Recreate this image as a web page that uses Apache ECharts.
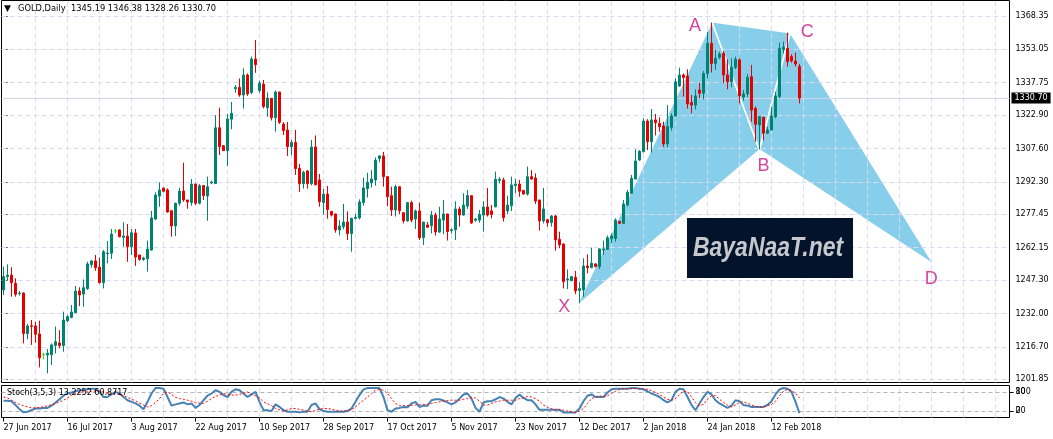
<!DOCTYPE html>
<html><head><meta charset="utf-8">
<script src="https://cdn.jsdelivr.net/npm/echarts@6/dist/echarts.min.js"></script>
<style>html,body{margin:0;padding:0;background:#fff}#c{width:1053px;height:439px}</style>
</head><body><div id="c"></div>
<script>
// ---------- data ----------
const chartTitle = 'GOLD,Daily  1345.19 1346.38 1328.26 1330.70';
const stochTitle = 'Stoch(3,5,3) 13.2252 60.8717';
const watermarkText = 'BayaNaaT.net';
const xLabels = ['27 Jun 2017','16 Jul 2017','3 Aug 2017','22 Aug 2017','10 Sep 2017','28 Sep 2017','17 Oct 2017','5 Nov 2017','23 Nov 2017','12 Dec 2017','2 Jan 2018','24 Jan 2018','12 Feb 2018'];
const yTicks = [1201.85,1216.70,1232.00,1247.30,1262.15,1277.45,1292.30,1307.60,1322.90,1337.75,1353.05,1368.35];
const bidPrice = 1330.70;
const stochLevels = [20, 80];
const stochRangeLabels = ['0', '100'];

const open = [
1242.8,1248.9,1249.6,1245.8,1241.1,1241.4,1222.8,1226.4,1226.3,1222.6,
1213.3,1213.0,1213.1,1217.3,1218.5,1217.3,1228.7,1230.2,1232.4,1242.3,
1240.9,1243.4,1254.4,1256.1,1253.2,1246.1,1259.4,1259.6,1269.8,1270.3,
1266.9,1267.5,1262.6,1268.9,1258.8,1256.8,1257.1,1261.1,1275.3,1285.8,
1289.5,1288.6,1279.1,1272.1,1282.5,1288.1,1284.0,1282.8,1291.3,1282.5,
1290.6,1285.8,1291.8,1291.6,1317.1,1308.9,1306.6,1321.0,1335.0,1335.6,
1332.1,1341.3,1333.2,1348.6,1334.2,1337.1,1326.3,1330.6,1321.7,1333.5,
1318.8,1316.1,1308.4,1310.4,1298.5,1291.5,1297.3,1291.5,1308.3,1293.2,
1282.8,1286.7,1278.8,1277.6,1270.3,1271.8,1273.9,1268.6,1275.6,1275.8,
1282.8,1289.2,1291.8,1293.2,1303.0,1304.2,1294.7,1286.0,1279.4,1290.1,
1278.2,1274.4,1282.8,1275.3,1279.0,1266.7,1272.6,1272.2,1277.1,1269.3,
1274.8,1277.6,1270.0,1270.3,1279.9,1277.1,1281.2,1286.0,1274.7,1274.8,
1277.1,1280.8,1279.0,1280.9,1293.0,1293.2,1279.0,1281.4,1290.7,1291.3,
1288.4,1286.7,1294.7,1294.1,1284.0,1274.4,1275.0,1273.6,1276.7,1266.0,
1263.8,1247.3,1247.0,1248.6,1242.5,1242.8,1253.8,1253.0,1254.7,1253.5,
1261.1,1261.4,1266.3,1266.4,1274.2,1273.3,1281.7,1287.1,1293.6,1302.3,
1306.2,1320.2,1310.7,1320.7,1319.1,1317.9,1309.7,1317.3,1322.5,1336.2,
1341.3,1340.8,1328.6,1327.5,1334.4,1332.9,1342.0,1355.8,1346.6,1349.4,
1351.2,1341.3,1338.2,1344.8,1348.2,1331.1,1332.6,1340.5,1326.0,1318.4,
1321.9,1314.6,1316.1,1322.2,1331.4,1353.0,1353.5,1349.7,1347.7,1345.19];
const high = [
1253.5,1254.5,1253.2,1248.1,1242.3,1241.7,1227.2,1229.0,1228.2,1228.7,
1214.0,1215.7,1218.3,1226.0,1224.4,1232.8,1231.3,1235.9,1244.6,1244.0,
1247.6,1255.7,1256.5,1258.8,1257.6,1261.1,1265.2,1270.7,1270.7,1270.5,
1273.8,1273.0,1270.7,1270.7,1258.9,1258.0,1265.4,1279.0,1287.5,1292.1,
1289.6,1289.3,1279.4,1282.8,1289.6,1301.1,1284.1,1293.6,1291.6,1291.3,
1290.8,1294.7,1292.9,1322.9,1326.3,1309.2,1323.4,1328.9,1336.7,1339.7,
1344.3,1342.0,1349.7,1357.3,1338.7,1339.0,1333.3,1330.7,1334.2,1333.6,
1319.7,1319.7,1311.5,1316.1,1300.5,1297.4,1297.7,1311.5,1313.6,1295.9,
1289.0,1290.4,1278.9,1277.7,1274.8,1282.2,1278.8,1275.9,1277.6,1284.3,
1294.2,1296.5,1297.7,1303.5,1304.5,1306.0,1294.8,1290.1,1291.0,1290.2,
1278.5,1282.9,1283.7,1279.7,1282.8,1274.0,1273.9,1279.0,1278.2,1280.9,
1284.0,1277.7,1271.0,1283.4,1280.9,1287.1,1288.6,1286.1,1275.8,1279.4,
1283.4,1289.5,1281.7,1297.0,1294.5,1294.2,1286.0,1294.7,1293.6,1293.2,
1288.5,1299.3,1297.7,1296.2,1284.1,1289.5,1275.3,1277.1,1277.1,1269.5,
1264.1,1252.2,1249.2,1251.5,1246.4,1257.3,1259.1,1262.2,1255.0,1261.9,
1265.4,1267.7,1268.7,1275.6,1274.5,1284.0,1288.6,1295.5,1307.2,1306.9,
1321.4,1321.0,1325.7,1323.4,1321.9,1319.9,1327.5,1323.7,1339.7,1344.6,
1342.0,1343.9,1332.1,1334.7,1337.8,1343.1,1361.1,1365.3,1353.0,1352.0,
1352.3,1348.5,1348.9,1349.7,1348.9,1334.4,1341.7,1345.9,1326.8,1322.5,
1322.2,1317.6,1326.5,1333.6,1356.1,1356.6,1360.7,1350.7,1351.5,1346.38];
const low = [
1240.5,1247.3,1239.7,1239.7,1240.2,1218.3,1220.2,1217.6,1218.6,1207.3,
1211.0,1204.6,1208.4,1213.7,1216.0,1214.5,1228.1,1229.8,1232.1,1235.4,
1235.1,1242.8,1253.0,1251.6,1245.8,1243.5,1255.0,1257.0,1268.7,1266.9,
1262.6,1255.7,1258.8,1253.8,1256.2,1256.1,1251.2,1260.8,1274.8,1280.9,
1287.5,1278.2,1267.2,1267.5,1281.4,1283.2,1280.0,1281.4,1281.7,1282.0,
1284.0,1274.5,1291.3,1291.3,1304.6,1306.5,1299.6,1316.4,1333.2,1331.3,
1325.9,1331.7,1332.6,1342.3,1333.2,1326.0,1322.2,1320.4,1315.3,1318.8,
1313.8,1304.2,1304.6,1295.5,1287.7,1289.2,1289.2,1290.7,1290.7,1280.9,
1277.4,1275.4,1276.4,1269.0,1267.8,1270.6,1265.7,1260.3,1275.1,1275.1,
1281.4,1285.1,1289.7,1290.6,1301.3,1290.1,1281.2,1276.7,1276.4,1277.4,
1273.3,1274.1,1273.8,1270.7,1265.7,1263.4,1271.3,1268.7,1267.7,1269.0,
1268.4,1265.4,1268.7,1265.7,1271.8,1276.8,1279.9,1273.0,1274.1,1273.6,
1269.5,1276.4,1275.6,1280.6,1291.6,1274.1,1277.6,1279.0,1287.1,1285.5,
1286.6,1286.0,1293.2,1282.2,1270.0,1273.3,1271.8,1271.8,1260.8,1261.9,
1243.5,1243.2,1246.9,1240.8,1236.7,1239.7,1250.4,1252.7,1253.2,1252.4,
1258.8,1261.1,1264.2,1264.9,1273.0,1273.0,1281.0,1286.8,1293.5,1302.0,
1305.7,1306.9,1305.7,1313.6,1315.3,1308.4,1308.1,1315.8,1322.2,1335.9,
1331.4,1325.9,1323.7,1325.5,1330.6,1330.1,1339.7,1342.4,1343.6,1348.5,
1337.5,1334.7,1335.6,1343.9,1328.3,1329.5,1331.1,1319.9,1310.7,1307.2,
1311.2,1314.2,1315.8,1321.4,1330.6,1351.2,1345.1,1346.9,1345.1,1328.26];
const close = [
1248.9,1249.6,1246.1,1240.8,1241.4,1222.8,1226.3,1226.1,1222.5,1211.7,
1213.3,1213.8,1217.6,1219.1,1217.3,1229.0,1230.5,1232.7,1242.3,1240.5,
1243.8,1254.7,1256.1,1253.0,1246.1,1260.3,1259.7,1268.4,1269.8,1267.2,
1267.5,1262.6,1269.0,1257.9,1256.8,1257.4,1261.5,1275.8,1286.3,1288.6,
1288.0,1278.5,1272.1,1282.5,1288.1,1284.0,1283.1,1291.3,1282.5,1290.6,
1286.0,1290.1,1292.2,1317.1,1308.4,1306.6,1321.1,1323.7,1335.6,1332.1,
1341.3,1332.6,1348.6,1346.0,1337.5,1326.8,1330.7,1321.7,1333.5,1319.6,
1315.8,1308.4,1310.4,1298.4,1291.5,1296.7,1291.5,1308.3,1291.0,1283.2,
1286.7,1279.6,1277.1,1270.3,1272.1,1273.9,1268.6,1275.6,1276.1,1283.1,
1289.5,1292.1,1293.6,1302.3,1304.2,1294.7,1285.5,1279.4,1290.1,1279.1,
1274.4,1282.8,1274.8,1279.0,1266.7,1273.9,1271.5,1277.1,1269.3,1275.3,
1277.6,1269.5,1270.4,1279.9,1277.1,1281.7,1286.0,1273.5,1275.3,1277.4,
1280.8,1277.1,1277.4,1293.5,1293.5,1275.9,1281.7,1290.9,1291.3,1288.0,
1286.7,1294.7,1293.6,1283.5,1274.4,1279.9,1273.6,1276.7,1265.7,1263.4,
1246.6,1247.8,1248.9,1242.3,1243.4,1253.8,1253.0,1255.0,1253.5,1261.6,
1261.6,1266.7,1267.5,1274.8,1273.3,1282.2,1287.5,1293.9,1301.9,1306.3,
1320.2,1310.7,1320.7,1319.4,1317.6,1309.7,1317.6,1322.5,1338.2,1341.3,
1340.1,1328.0,1327.5,1331.7,1332.9,1342.0,1355.8,1346.6,1348.9,1350.9,
1341.3,1338.2,1344.8,1348.5,1331.7,1332.6,1340.2,1325.2,1318.7,1322.2,
1314.6,1316.1,1322.5,1331.7,1353.5,1354.0,1347.4,1347.8,1346.3,1330.70];

const stochK = [
52,52,51,39,26,16,18,23,28,28, 30,30,37,47,57,68,75,78,82,85,
85,88,90,90,80,64,64,72,80,75, 64,54,49,44,37,26,49,75,92,92,
90,64,37,41,44,47,41,44,30,39, 54,68,75,85,80,70,64,80,88,85,
75,64,72,80,49,23,23,20,41,33, 23,18,18,18,16,18,18,39,44,26,
20,18,18,18,18,18,20,28,49,70, 88,92,92,92,92,64,23,18,28,30,
33,32,44,49,33,37,37,54,57,57, 53,47,41,47,59,72,75,59,30,18,
47,51,51,57,64,59,49,41,61,72, 61,54,54,41,24,24,24,24,24,24,
16,16,16,16,28,51,68,72,64,64, 64,78,88,90,90,90,90,92,92,90,
88,82,75,70,64,54,47,54,80,90, 88,64,39,23,44,64,80,72,54,44,
37,30,37,54,51,39,37,33,33,33, 33,39,51,72,88,92,90,80,49,13.2252];
const stochD = [
64,61,54,47,41,37,33,30,30,32, 33,37,39,43,49,54,61,70,75,80,
80,80,82,83,82,80,75,72,75,72, 68,63,57,52,45,39,33,37,47,59,
75,80,72,63,59,57,54,51,46,45, 44,51,59,66,70,75,72,70,70,72,
76,80,72,68,61,49,43,37,28,24, 20,24,28,28,25,23,20,18,22,26,
28,28,26,23,20,20,22,25,33,44, 54,64,75,85,88,85,75,59,44,37,
37,37,38,39,40,41,41,44,47,49, 51,53,54,54,54,57,59,63,61,51,
39,39,44,49,51,54,54,54,54,59, 61,66,64,59,51,39,32,28,24,24,
23,20,18,16,20,28,44,59,64,68, 64,68,75,82,88,90,90,90,90,90,
90,88,84,78,72,64,57,54,59,72, 82,80,64,47,37,41,57,68,68,57,
47,39,33,39,47,49,44,39,35,33, 33,37,41,51,68,82,88,85,75,60.8717];

const patternNames = ['X','A','B','C','D'];
const patternBars = [143.2, 177.1, 189.0, 196.7, 232.7];
const patternPrices = [1235.1, 1365.7, 1306.9, 1360.7, 1254.2];
const patternTriangles = [[0,1,2],[1,2,3],[2,3,4]];
const patternLabelOffsets = [[-12,0],[-17,4],[4,16],[17,-1],[-3,14]];

// ---------- chart ----------
const FONT = '"DejaVu Sans", Tahoma, sans-serif';
const NSLOTS = 252;
const cats = Array.from({length: NSLOTS}, (_, i) => String(i));
const candles = open.map((o, i) => [o, close[i], low[i], high[i]]);
const vGrid = [];
for (let i = 8; i < NSLOTS; i += 8) vGrid.push(i);
const gridStyle = {color: '#DADAF2', type: [5, 3], width: 1};
const isLabelIdx = (i) => i % 16 === 0 && i / 16 < xLabels.length;

const chart = echarts.init(document.getElementById('c'));
chart.setOption({
  animation: false,
  backgroundColor: '#ffffff',
  grid: [
    {left: 1.5, top: 0.5, width: 1008, height: 382, show: true, borderColor: '#000', borderWidth: 1},
    {left: 1.5, top: 385.5, width: 1008, height: 32, show: true, borderColor: '#000', borderWidth: 1}
  ],
  xAxis: [
    {type: 'category', gridIndex: 0, data: cats, boundaryGap: true, show: false},
    {type: 'category', gridIndex: 1, data: cats, boundaryGap: true,
      axisLine: {show: false},
      axisTick: {show: true, alignWithLabel: true, length: 4, interval: isLabelIdx, lineStyle: {color: '#000'}},
      axisLabel: {show: true, interval: isLabelIdx, formatter: (v, i) => xLabels[i / 16] || '',
        align: 'left', margin: 6, fontSize: 8, fontFamily: FONT, color: '#000'},
      splitLine: {show: false}},
    {type: 'value', gridIndex: 0, min: -0.5, max: NSLOTS - 0.5, show: false}
  ],
  yAxis: [
    {type: 'value', gridIndex: 0, position: 'right', min: 1200.38, max: 1375.41,
      axisLine: {show: false}, splitLine: {show: false},
      axisTick: {show: true, customValues: yTicks, length: 4, lineStyle: {color: '#000'}},
      axisLabel: {show: true, customValues: yTicks, formatter: v => v.toFixed(2), margin: 6,
        fontSize: 8, fontFamily: FONT, color: '#000'}},
    {type: 'value', gridIndex: 1, position: 'right', min: 0, max: 100,
      axisLine: {show: false}, splitLine: {show: false},
      axisTick: {show: true, customValues: stochLevels, length: 4, lineStyle: {color: '#000'}},
      axisLabel: {show: true, customValues: stochLevels, formatter: v => String(v), margin: 6,
        fontSize: 8, fontFamily: FONT, color: '#000'}},
    {type: 'value', gridIndex: 1, position: 'right', min: 0, max: 100,
      axisLine: {show: false}, splitLine: {show: false}, axisTick: {show: false},
      axisLabel: {show: true, customValues: stochLevels, formatter: v => stochRangeLabels[stochLevels.indexOf(v)], margin: 6,
        fontSize: 8, fontFamily: FONT, color: '#000'}}
  ],
  series: [
    {
      type: 'custom', xAxisIndex: 2, yAxisIndex: 0, z: 1, silent: true,
      data: patternTriangles,
      renderItem: (params, api) => {
        const tri = patternTriangles[params.dataIndex];
        const pts = tri.map(k => api.coord([patternBars[k], patternPrices[k]]));
        return {type: 'polygon', shape: {points: pts},
          style: {fill: '#87CEEB', stroke: '#ffffff', lineWidth: 1.6}};
      }
    },
    {
      type: 'candlestick', xAxisIndex: 0, yAxisIndex: 0, z: 3, silent: true,
      data: candles, barWidth: 2,
      itemStyle: {color: '#00836F', color0: '#E60000', borderColor: '#00836F', borderColor0: '#E60000',
        borderColorDoji: '#1EE01E', borderWidth: 1},
      markLine: {
        silent: true, symbol: 'none', z: 2, animation: false,
        label: {show: false},
        lineStyle: gridStyle,
        data: [
          ...yTicks.map(v => ({yAxis: v})),
          ...vGrid.map(i => ({xAxis: i})),
          {yAxis: bidPrice, lineStyle: {color: '#D4D4EA', type: 'solid', width: 1},
            label: {show: true, position: 'end', distance: 2, formatter: bidPrice.toFixed(2),
              backgroundColor: '#000', color: '#fff', padding: [2, 3, 1, 3], fontSize: 8, fontFamily: FONT}}
        ]
      }
    },
    {
      type: 'scatter', xAxisIndex: 2, yAxisIndex: 0, z: 6, silent: true,
      symbolSize: 1, itemStyle: {color: 'rgba(0,0,0,0)'},
      data: patternNames.map((n, i) => ({name: n, value: [patternBars[i], patternPrices[i]],
        label: {offset: patternLabelOffsets[i]}})),
      label: {show: true, position: 'inside', formatter: p => p.name, color: '#C71585',
        fontSize: 18, fontFamily: '"Liberation Sans", Arial, sans-serif'}
    },
    {
      type: 'line', xAxisIndex: 1, yAxisIndex: 1, z: 3, silent: true,
      data: stochK, showSymbol: false, lineStyle: {color: '#4682B4', width: 2},
      markLine: {
        silent: true, symbol: 'none', z: 1, animation: false, label: {show: false},
        lineStyle: gridStyle,
        data: [
          ...vGrid.map(i => ({xAxis: i})),
          ...stochLevels.map(v => ({yAxis: v, lineStyle: {color: '#B4B4B4', type: [4, 3], width: 1}}))
        ]
      }
    },
    {
      type: 'line', xAxisIndex: 1, yAxisIndex: 1, z: 4, silent: true,
      data: stochD, showSymbol: false, lineStyle: {color: '#FF0000', width: 1, type: [2, 2]}
    }
  ],
  graphic: [
    {type: 'text', left: 4, top: 4, z: 10, style: {text: '\u25BC', fontSize: 9, fill: '#000', fontFamily: FONT}},
    {type: 'text', left: 18, top: 5, z: 10, style: {text: chartTitle, fontSize: 8.3, fill: '#000', fontFamily: FONT}},
    {type: 'text', left: 7, top: 389, z: 10, style: {text: stochTitle, fontSize: 8, fill: '#000', fontFamily: FONT}},
    {type: 'rect', left: 687, top: 218, z: 10, shape: {width: 166, height: 60}, style: {fill: '#02132B'}},
    {type: 'text', x: 693, y: 248, scaleX: 0.82, z: 11, style: {text: watermarkText, fontSize: 28, fontStyle: 'italic',
      fontWeight: 'bold', fill: '#C6C9CC', verticalAlign: 'middle', fontFamily: '"Liberation Sans", Arial, sans-serif'}}
  ]
});
</script>
</body></html>
